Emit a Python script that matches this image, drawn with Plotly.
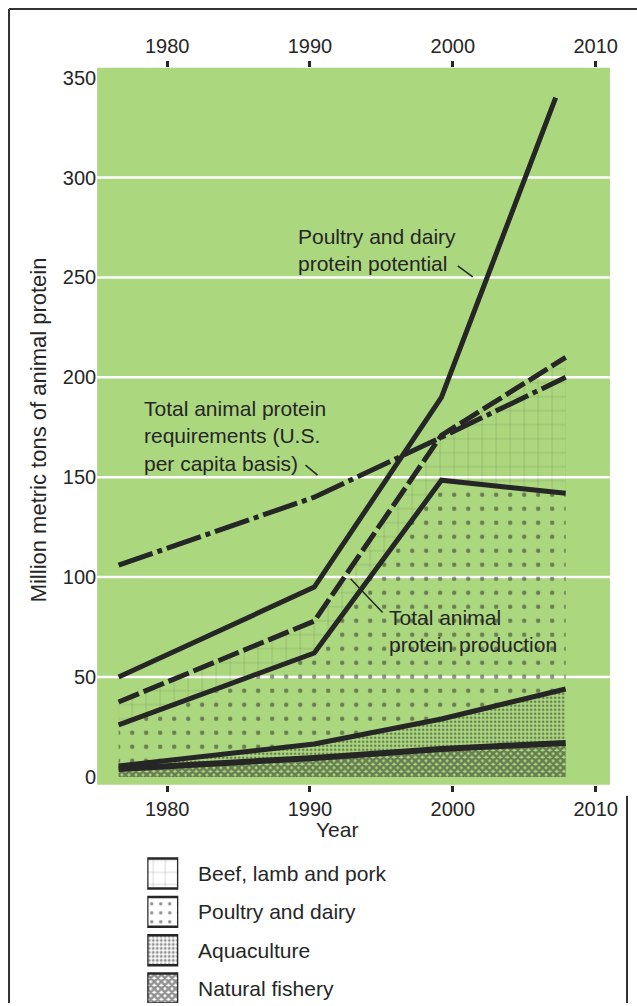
import plotly.graph_objects as go

W, H = 637, 1006
WX = 628   # width the page actually lays the figure out at (measured from the render)
INK = "#262626"
GREEN = "#abd77e"
FONT = "Liberation Sans, Arial, Helvetica, sans-serif"

# data (million metric tons)
years = [1976.6, 1990.3, 1999.2, 2007.9]
years_potential = [1976.6, 1990.3, 1999.2, 2007.2]

natural_fishery = [4, 9.5, 14, 17]
aquaculture = [5.5, 16.5, 29, 44]
poultry_dairy = [26, 62, 148.5, 142]      # top of the poultry & dairy band
total_production = [37.5, 78, 171, 210]   # top of the beef, lamb & pork band
requirements = [106, 140, 170, 200]
potential = [50, 95, 190, 340]

tick_years = [1980, 1990, 2000, 2010]
y_ticks = [0, 50, 100, 150, 200, 250, 300, 350]
grid_vals = [50, 100, 150, 200, 250, 300]

legend_labels = ["Beef, lamb and pork", "Poultry and dairy", "Aquaculture", "Natural fishery"]


def px(x, y):
    # pixel position -> paper coordinates
    return x / WX, 1 - y / H


def band(y, fill, shape, size, solidity, dash="solid", width=5):
    return go.Scatter(
        x=years, y=y, mode="lines", fill=fill,
        line=dict(color=INK, width=width, dash=dash),
        fillcolor="rgba(0,0,0,0)",
        fillpattern=dict(shape=shape, size=size, solidity=solidity,
                         fgcolor=INK, bgcolor="rgba(0,0,0,0)"),
        showlegend=False, hoverinfo="skip")


fig = go.Figure()
fig.add_trace(band(natural_fishery, "tozeroy", "x", 5, 0.75, width=6))
fig.add_trace(band(aquaculture, "tonexty", ".", 4, 0.35))
fig.add_trace(band(poultry_dairy, "tonexty", ".", 14, 0.08))
fig.add_trace(band(total_production, "tonexty", "+", 14, 0.04, dash="22px,5px"))

fig.add_trace(go.Scatter(x=years, y=requirements, mode="lines",
                         line=dict(color=INK, width=5, dash="36px,5px,5px,5px"),
                         showlegend=False, hoverinfo="skip"))
fig.add_trace(go.Scatter(x=years_potential, y=potential, mode="lines",
                         line=dict(color=INK, width=5),
                         showlegend=False, hoverinfo="skip"))

# invisible trace so the top year axis gets drawn
fig.add_trace(go.Scatter(x=years, y=requirements, mode="none", xaxis="x2",
                         showlegend=False, hoverinfo="skip"))

# legend swatches as patterned bars
fig.add_trace(go.Bar(
    x=[1] * len(legend_labels), y=legend_labels, orientation="h", width=0.78,
    xaxis="x3", yaxis="y3", showlegend=False, hoverinfo="skip",
    marker=dict(color="white", line=dict(color=INK, width=2.5),
                pattern=dict(shape=["+", ".", ".", "x"], size=[12, 9, 4, 5],
                             solidity=[0.06, 0.12, 0.45, 0.75],
                             fgcolor=INK, bgcolor="white"))))

tick_style = dict(ticks="outside", ticklen=6, tickwidth=2.5, tickcolor=INK,
                  showgrid=False, zeroline=False, showline=False,
                  tickfont=dict(size=20, color=INK))

shapes = [dict(type="rect", xref="x domain", yref="y domain", x0=0, x1=1, y0=0, y1=1,
               fillcolor=GREEN, line=dict(width=0), layer="below")]
for g in grid_vals:
    shapes.append(dict(type="line", xref="x domain", yref="y", x0=0, x1=1, y0=g, y1=g,
                       line=dict(color="white", width=2.5), layer="below"))

# leader lines for the callouts
for (xa, ya), (xb, yb) in [((457, 266), (472, 277)), ((305, 466), (317, 476)),
                           ((350, 580), (382, 614))]:
    x0, y0 = px(xa, ya)
    x1, y1 = px(xb, yb)
    shapes.append(dict(type="line", xref="paper", yref="paper", x0=x0, y0=y0, x1=x1, y1=y1,
                       line=dict(color=INK, width=1.5)))

# frame around the figure
for (xa, ya), (xb, yb) in [((9, 8), (9, 1006)), ((9, 8), (637, 8)), ((626, 798), (626, 1006))]:
    x0, y0 = px(xa, ya)
    x1, y1 = px(xb, yb)
    shapes.append(dict(type="line", xref="paper", yref="paper", x0=x0, y0=y0, x1=x1, y1=y1,
                       line=dict(color="#333333", width=2)))

annotations = []


def note(text, x, y, size=21, **kw):
    xp, yp = px(x, y)
    annotations.append(dict(text=text, x=xp, y=yp, xref="paper", yref="paper",
                            showarrow=False, xanchor=kw.get("xanchor", "left"),
                            yanchor="middle", align="left",
                            textangle=kw.get("textangle", 0),
                            font=dict(size=size, color=INK, family=FONT)))


note("Poultry and dairy<br>protein potential", 296, 250)
note("Total animal protein<br>requirements (U.S.<br>per capita basis)", 142, 437)
note("Total animal<br>protein production", 386, 633)
note("Million metric tons of animal protein", 38, 431, size=22, xanchor="center", textangle=-90)
note("Year", 336, 832, size=21, xanchor="center")

for lab in legend_labels:
    annotations.append(dict(text=lab, x=196 / WX, y=lab, xref="paper", yref="y3",
                            showarrow=False, xanchor="left", yanchor="middle",
                            font=dict(size=21, color=INK, family=FONT)))

fig.update_layout(
    width=W, height=H, autosize=False,
    margin=dict(l=0, r=0, t=0, b=0),
    paper_bgcolor="white", plot_bgcolor="white",
    font=dict(family=FONT, color=INK),
    showlegend=False,
    xaxis=dict(domain=[97 / WX, 609 / WX], range=[1975.1, 2011.0], tickvals=tick_years,
               anchor="y", **tick_style),
    xaxis2=dict(overlaying="x", side="top", matches="x", tickvals=tick_years,
                anchor="y", **tick_style),
    yaxis=dict(domain=[(H - 787) / H, (H - 67) / H], range=[-4, 355], tickvals=y_ticks,
               showgrid=False, zeroline=False, showline=False, ticks="",
               tickfont=dict(size=20, color=INK), anchor="x"),
    xaxis3=dict(domain=[147 / WX, 178 / WX], range=[0, 1], visible=False, anchor="y3"),
    yaxis3=dict(domain=[0, 1 - 856.75 / H], range=[-0.377, 3.5], type="category",
                categoryorder="array", categoryarray=legend_labels[::-1],
                visible=False, anchor="x3"),
    shapes=shapes,
    annotations=annotations,
)

# drop the browser's default body margin and scrollbars
post = """
document.documentElement.style.overflow = 'hidden';
document.body.style.margin = '0';
document.body.style.overflow = 'hidden';
"""

fig.write_html("out.html",
               config={"displayModeBar": False, "responsive": False},
               post_script=post)
